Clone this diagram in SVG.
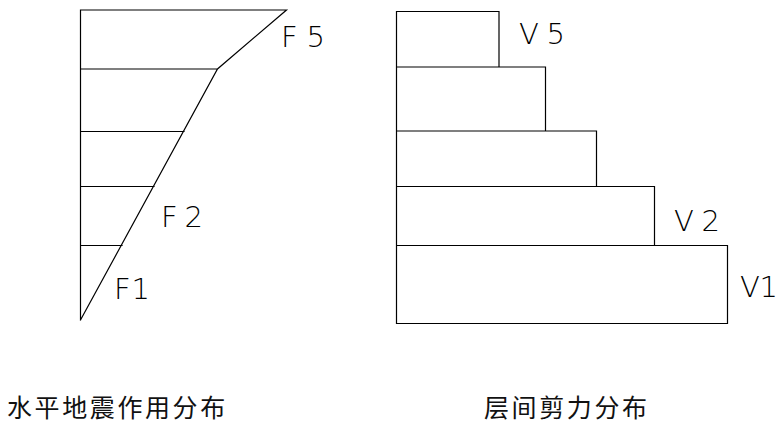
<svg xmlns="http://www.w3.org/2000/svg" width="780" height="424" viewBox="0 0 780 424">
<style>
.ln{fill:none;stroke:#000;stroke-width:1.2;stroke-linecap:square}
.lb{font-family:"DejaVu Sans","Liberation Sans",sans-serif;font-weight:200;font-size:29px;fill:#000}
.cap{font-family:"Noto Sans CJK SC",sans-serif;font-size:25px;letter-spacing:2.6px;fill:#111}
</style>
<rect width="780" height="424" fill="#fff"/>
<g id="force-diagram">
<path class="ln" d="M80.5 10 V320 M80.5 10 H286.5 L217.5 69 L80.5 320 M80.5 69 H217.5 M80.5 131.5 H184 M80.5 186.5 H154 M80.5 245.5 H122"/>
</g>
<g id="shear-diagram">
<path class="ln" d="M396.5 11.5 V323.5 H727.5 V245.5 H654.5 V186.5 H596.5 V131 H545.5 V67 H499 V11.5 Z M396.5 67 H499 M396.5 131 H545.5 M396.5 186.5 H596.5 M396.5 245.5 H654.5"/>
</g>
<g id="labels">
<text class="lb" x="281" y="46.7" textLength="44" lengthAdjust="spacing">F5</text>
<text class="lb" x="161" y="226.7" textLength="42" lengthAdjust="spacing">F2</text>
<text class="lb" x="114" y="299.3" textLength="36" lengthAdjust="spacing">F1</text>
<text class="lb" x="519" y="44" textLength="46" lengthAdjust="spacing">V5</text>
<text class="lb" x="674" y="230.7" textLength="46" lengthAdjust="spacing">V2</text>
<text class="lb" x="740" y="297.3" textLength="38" lengthAdjust="spacing">V1</text>
</g>
<g id="captions">
<text class="cap" x="7" y="417">水平地震作用分布</text>
<text class="cap" x="484" y="417">层间剪力分布</text>
</g>
</svg>
